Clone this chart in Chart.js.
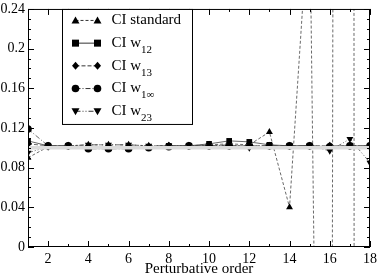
<!DOCTYPE html>
<html>
<head>
<meta charset="utf-8">
<script src="https://cdn.jsdelivr.net/npm/chart.js@4/dist/chart.umd.min.js"></script>
<style>
  html, body { margin: 0; padding: 0; background: #fff; }
  #wrap { width: 382px; height: 275px; }
</style>
</head>
<body>
<div id="wrap"><canvas id="chart" width="382" height="275"></canvas></div>
<script>
// perturbative orders
const orders = [1, 2, 3, 4, 5, 6, 7, 8, 9, 10, 11, 12, 13, 14, 15, 16, 17, 18];

// series (values past 14 for CI standard run far off the axis)
const ciStandard = [0.090, 0.101, 0.102, 0.103, 0.103, 0.103, 0.102, 0.102, 0.102, 0.103, 0.104, 0.103, 0.116, 0.040, 0.35, -1.3, 8.7, -63];
const ciW12 = [0.107, 0.102, 0.102, 0.100, 0.100, 0.100, 0.101, 0.102, 0.102, 0.104, 0.107, 0.106, 0.103, 0.102, 0.102, 0.101, 0.102, 0.102];
const ciW13 = [0.104, 0.102, 0.102, 0.101, 0.101, 0.101, 0.101, 0.102, 0.102, 0.102, 0.102, 0.102, 0.102, 0.102, 0.102, 0.102, 0.102, 0.102];
const ciW1inf = [0.119, 0.102, 0.102, 0.099, 0.099, 0.099, 0.100, 0.101, 0.102, 0.102, 0.102, 0.102, 0.102, 0.102, 0.102, 0.101, 0.102, 0.102];
const ciW23 = [0.095, 0.101, 0.102, 0.103, 0.103, 0.103, 0.102, 0.102, 0.102, 0.102, 0.103, 0.100, 0.102, 0.102, 0.102, 0.097, 0.109, 0.085];
// grey reference band behind the curves
const reference = [0.100, 0.100, 0.100, 0.100, 0.100, 0.100, 0.100, 0.100, 0.100, 0.100, 0.100, 0.100, 0.100, 0.100, 0.100, 0.100, 0.100, 0.100];

const xTicks = [2, 4, 6, 8, 10, 12, 14, 16, 18];
const yTicks = [0, 0.04, 0.08, 0.12, 0.16, 0.2, 0.24];

const series = [
  { name: 'CI standard', sub: '', data: ciStandard, marker: 'up', dash: [3, 2] },
  { name: 'CI w', sub: '12', data: ciW12, marker: 'square', dash: [] },
  { name: 'CI w', sub: '13', data: ciW13, marker: 'diamond', dash: [4, 2] },
  { name: 'CI w', sub: '1\u221E', data: ciW1inf, marker: 'circle', dash: [5, 2, 1, 2] },
  { name: 'CI w', sub: '23', data: ciW23, marker: 'down', dash: [5, 2, 1, 2, 1, 2] },
];

const serif = 'Liberation Serif';

function drawMarker(ctx, type, x, y) {
  ctx.save();
  ctx.setLineDash([]);
  ctx.fillStyle = '#000';
  ctx.beginPath();
  if (type === 'up') {
    ctx.moveTo(x, y - 4); ctx.lineTo(x + 4, y + 3); ctx.lineTo(x - 4, y + 3);
  } else if (type === 'down') {
    ctx.moveTo(x, y + 4); ctx.lineTo(x + 4, y - 3); ctx.lineTo(x - 4, y - 3);
  } else if (type === 'square') {
    ctx.rect(x - 3.5, y - 3.5, 7, 7);
  } else if (type === 'diamond') {
    ctx.moveTo(x, y - 4); ctx.lineTo(x + 3.5, y); ctx.lineTo(x, y + 4); ctx.lineTo(x - 3.5, y);
  } else {
    ctx.arc(x, y, 3.8, 0, Math.PI * 2);
  }
  ctx.closePath();
  ctx.fill();
  ctx.restore();
}

const pointStyles = { up: 'triangle', down: 'triangle', square: 'rect', diamond: 'rectRot', circle: 'circle' };

const datasets = series.map((s) => ({
  label: s.name + s.sub,
  data: orders.map((o, i) => ({ x: o, y: s.data[i] })),
  borderColor: '#444',
  backgroundColor: '#000',
  borderWidth: 0.8,
  borderDash: s.dash,
  pointStyle: pointStyles[s.marker],
  rotation: s.marker === 'down' ? 180 : 0,
  pointRadius: s.marker === 'circle' ? 3.8 : 4,
  pointBorderWidth: 0,
  tension: 0,
}));

datasets.unshift({
  label: 'reference',
  data: orders.map((o, i) => ({ x: o, y: reference[i] })),
  borderColor: '#dcdcdc',
  borderWidth: 3.5,
  pointRadius: 0,
  tension: 0,
});

const frameAndLegend = {
  id: 'frameAndLegend',
  afterDraw(chart) {
    const { ctx, chartArea: ca, scales } = chart;
    const xs = scales.x;
    const ys = scales.y;
    ctx.save();
    ctx.strokeStyle = '#000';
    ctx.lineWidth = 1;
    ctx.setLineDash([]);
    ctx.strokeRect(ca.left + 0.5, ca.top + 0.5, ca.right - ca.left - 1, ca.bottom - ca.top - 1);

    // inward ticks on all four sides
    ctx.beginPath();
    for (let v = 1; v <= 18; v += 1) {
      const px = Math.round(xs.getPixelForValue(v)) + 0.5;
      const len = v % 2 === 0 ? 6 : 3;
      ctx.moveTo(px, ca.bottom); ctx.lineTo(px, ca.bottom - len);
      ctx.moveTo(px, ca.top); ctx.lineTo(px, ca.top + len);
    }
    for (let k = 0; k <= 24; k += 1) {
      const py = Math.round(ys.getPixelForValue(k / 100)) + 0.5;
      const len = k % 4 === 0 ? 6 : 3;
      ctx.moveTo(ca.left, py); ctx.lineTo(ca.left + len, py);
      ctx.moveTo(ca.right, py); ctx.lineTo(ca.right - len, py);
    }
    ctx.stroke();

    // legend box
    const bx = ca.left + 34.5;
    const by = ca.top + 0.5;
    ctx.fillStyle = '#fff';
    ctx.fillRect(bx, by, 130, 115);
    ctx.strokeRect(bx, by, 130, 115);
    series.forEach((s, i) => {
      const y = by + 11 + i * 22.7;
      const x0 = bx + 13;
      const x1 = bx + 35;
      ctx.strokeStyle = '#333';
      ctx.setLineDash(s.dash);
      ctx.beginPath();
      ctx.moveTo(x0, y); ctx.lineTo(x1, y);
      ctx.stroke();
      drawMarker(ctx, s.marker, x0, y);
      drawMarker(ctx, s.marker, x1, y);
      ctx.setLineDash([]);
      ctx.fillStyle = '#000';
      ctx.textBaseline = 'middle';
      ctx.textAlign = 'left';
      ctx.font = '15px "' + serif + '"';
      ctx.fillText(s.name, bx + 49, y);
      if (s.sub) {
        const w = ctx.measureText(s.name).width;
        ctx.font = '11px "' + serif + '"';
        ctx.fillText(s.sub, bx + 49 + w, y + 7);
      }
    });
    ctx.restore();
  },
};

new Chart(document.getElementById('chart'), {
  type: 'line',
  data: { datasets },
  options: {
    responsive: false,
    animation: false,
    layout: { padding: { top: 0, right: 7, left: 0, bottom: 0 } },
    plugins: { legend: { display: false }, tooltip: { enabled: false } },
    scales: {
      x: {
        type: 'linear',
        min: 1,
        max: 18,
        grid: { display: false, drawTicks: false, tickLength: 0 },
        border: { display: false },
        afterBuildTicks: (scale) => { scale.ticks = xTicks.map((v) => ({ value: v })); },
        afterFit: (scale) => { scale.height = 28; },
        ticks: {
          color: '#000',
          padding: 5,
          maxRotation: 0,
          autoSkip: false,
          font: { family: serif, size: 14, lineHeight: 1 },
          callback: (v) => String(v),
        },
        title: {
          display: true,
          text: 'Perturbative order',
          color: '#000',
          font: { family: serif, size: 15, lineHeight: 1 },
          padding: { top: 0, bottom: -2 },
        },
      },
      y: {
        min: 0,
        max: 0.24,
        grid: { display: false, drawTicks: false, tickLength: 0 },
        border: { display: false },
        afterBuildTicks: (scale) => { scale.ticks = yTicks.map((v) => ({ value: v })); },
        afterFit: (scale) => { scale.width = 28; },
        ticks: {
          color: '#000',
          padding: 3,
          autoSkip: false,
          font: { family: serif, size: 14, lineHeight: 0.85 },
          callback: (v) => String(v),
        },
      },
    },
  },
  plugins: [frameAndLegend],
});
</script>
</body>
</html>
